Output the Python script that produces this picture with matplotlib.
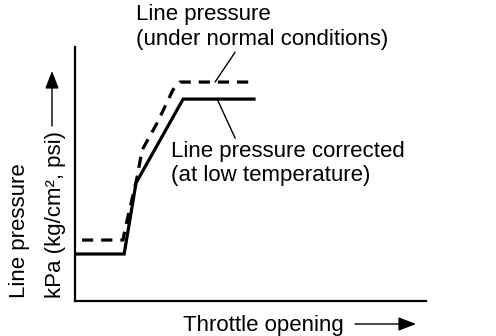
import matplotlib
matplotlib.use("Agg")
import matplotlib.pyplot as plt

plt.rcParams['font.family'] = ['Liberation Sans', 'DejaVu Sans']

# Throttle opening (%) vs line pressure (relative units)
normal_x = [2.0, 13.7, 14.2, 16.2, 17.7, 19.1, 23.4, 27.9, 29.9, 51.0]
normal_y = [24.0, 24.0, 28.0, 39.8, 48.8, 59.4, 70.1, 83.1, 86.2, 86.2]
corrected_x = [0.5, 14.0, 17.4, 30.8, 51.0]
corrected_y = [18.5, 18.5, 46.5, 79.5, 79.5]

label_normal = "Line pressure\n(under normal conditions)"
label_corrected = "Line pressure corrected\n(at low temperature)"
xlabel = "Throttle opening"
ylabel1 = "Line pressure"
ylabel2 = "kPa (kg/cm², psi)"

W, H = 496, 336
fig = plt.figure(figsize=(W / 100, H / 100), dpi=100)
ax = fig.add_axes([75 / W, (H - 301) / H, 351 / W, 254 / H])
ax.set_xlim(0, 100)
ax.set_ylim(0, 100)
for s in ['top', 'right']:
    ax.spines[s].set_visible(False)
for s in ['left', 'bottom']:
    ax.spines[s].set_linewidth(1.6)
    ax.spines[s].set_color('black')
ax.set_xticks([])
ax.set_yticks([])

ax.plot(corrected_x, corrected_y, color='black', lw=2.3, solid_joinstyle='miter', clip_on=False)
ax.plot(normal_x, normal_y, color='black', lw=2.3, dashes=(3.5, 2.5), clip_on=False)

fs = 16
ax.annotate(label_normal, xy=(39.9, 86.2), xytext=(136 / W, 1 - 4 / H),
            textcoords='figure fraction', ha='left', va='top', fontsize=fs,
            linespacing=1.22,
            arrowprops=dict(arrowstyle='-', lw=1.0, color='black',
                            shrinkA=0, shrinkB=0, relpos=(0.4, 0.0)))
ax.annotate(label_corrected, xy=(40.5, 79.5), xytext=(171 / W, 1 - 141 / H),
            textcoords='figure fraction', ha='left', va='top', fontsize=fs,
            linespacing=1.2,
            arrowprops=dict(arrowstyle='-', lw=1.0, color='black',
                            shrinkA=0, shrinkB=0, relpos=(0.28, 1.0)))

fig.text(183 / W, 1 - 331 / H, xlabel, ha='left', va='baseline', fontsize=fs)
fig.text(20 / W, 1 - 298 / H, ylabel1, rotation=90, ha='center', va='bottom', fontsize=fs)
fig.text(55 / W, 1 - 298 / H, ylabel2, rotation=90, ha='center', va='bottom', fontsize=fs)

# direction arrows
fig.add_artist(matplotlib.patches.FancyArrowPatch(
    (355 / W, 1 - 324 / H), (416 / W, 1 - 324 / H), transform=fig.transFigure,
    arrowstyle='-|>,head_length=0.9,head_width=0.35', lw=1.0, color='black',
    mutation_scale=12, shrinkA=0, shrinkB=0))
fig.add_artist(matplotlib.patches.FancyArrowPatch(
    (52 / W, 1 - 126 / H), (52 / W, 1 - 71 / H), transform=fig.transFigure,
    arrowstyle='-|>,head_length=0.9,head_width=0.35', lw=1.0, color='black',
    mutation_scale=12, shrinkA=0, shrinkB=0))

fig.savefig('out.png', dpi=100)
